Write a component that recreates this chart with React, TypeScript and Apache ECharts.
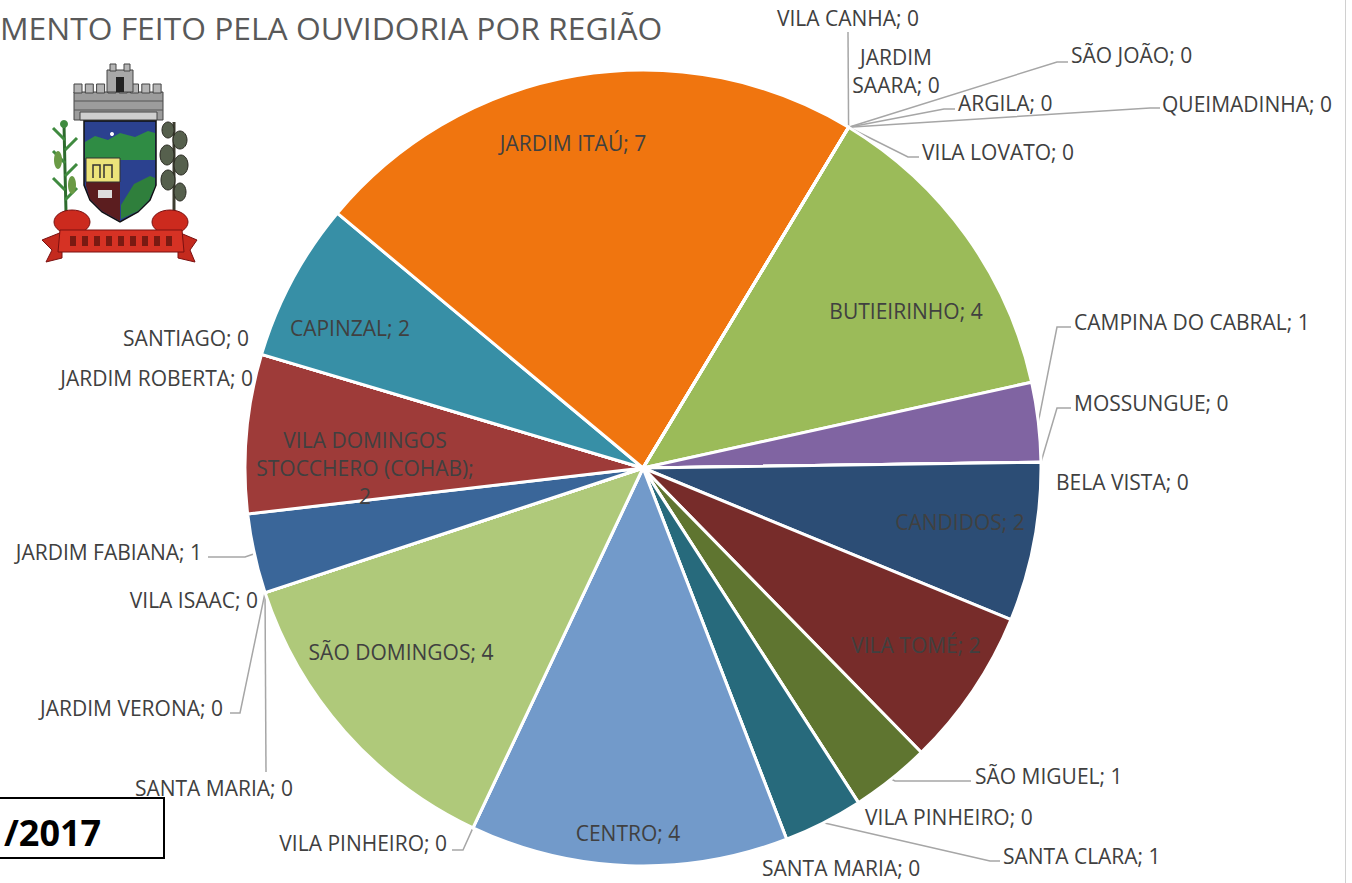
import React, { useEffect, useRef } from 'react';
import * as echarts from 'echarts';

// ---- DATA (clockwise order, starting at the top boundary) ----
const regions: string[] = [
  'QUEIMADINHA', 'VILA LOVATO', 'BUTIEIRINHO', 'CAMPINA DO CABRAL', 'MOSSUNGUE', 'BELA VISTA',
  'CANDIDOS', 'VILA TOMÉ', 'SÃO MIGUEL', 'VILA PINHEIRO', 'SANTA CLARA', 'SANTA MARIA',
  'CENTRO', 'VILA PINHEIRO', 'SÃO DOMINGOS', 'SANTA MARIA', 'JARDIM VERONA', 'VILA ISAAC',
  'JARDIM FABIANA', 'VILA DOMINGOS STOCCHERO (COHAB)', 'JARDIM ROBERTA', 'SANTIAGO',
  'CAPINZAL', 'JARDIM ITAÚ', 'VILA CANHA', 'JARDIM SAARA', 'SÃO JOÃO', 'ARGILA',
];
const counts: number[] = [
  0, 0, 4, 1, 0, 0,
  2, 2, 1, 0, 1, 0,
  4, 0, 4, 0, 0, 0,
  1, 2, 0, 0,
  2, 7, 0, 0, 0, 0,
];
const sliceColors: string[] = [
  '#4F81BD', '#C0504D', '#9BBB59', '#8064A2', '#4BACC6', '#F79646',
  '#2C4D75', '#772C2A', '#5F7530', '#4D3B62', '#276A7C', '#B65708',
  '#729ACA', '#CD7371', '#AFC97A', '#9983B5', '#6FBDD1', '#F9AB6B',
  '#3A6699', '#9E3B39', '#7E9E43', '#664F85', '#378FA6', '#F0750F',
  '#4F81BD', '#C0504D', '#9BBB59', '#8064A2',
];
const titleText = 'MENTO FEITO PELA OUVIDORIA POR REGIÃO';
const periodText = '/2017';

// ---- LABEL LAYOUT (positions of the data labels, Excel-like) ----
type LL = { x: number; y: number; align: 'left' | 'right' | 'center'; inside?: boolean; line?: number[][]; breaks?: string[] };
const labelLayouts: LL[] = [
  { x: 1162, y: 104, align: 'left', line: [[1150, 108], [1160, 108]] },
  { x: 922, y: 152, align: 'left', line: [[908, 157], [919, 157]] },
  { x: 906, y: 311, align: 'center', inside: true },
  { x: 1074, y: 322, align: 'left', line: [[1057, 327], [1071, 327]] },
  { x: 1074, y: 403, align: 'left', line: [[1057, 408], [1071, 408]] },
  { x: 1056, y: 482, align: 'left' },
  { x: 960, y: 522, align: 'center', inside: true },
  { x: 916, y: 645, align: 'center', inside: true },
  { x: 975, y: 776, align: 'left', line: [[895, 781], [971, 781]] },
  { x: 865, y: 817, align: 'left' },
  { x: 1003, y: 856, align: 'left', line: [[990, 861], [1000, 861]] },
  { x: 762, y: 868, align: 'left' },
  { x: 628, y: 833, align: 'center', inside: true },
  { x: 447, y: 843, align: 'right', line: [[463, 850], [452, 850]] },
  { x: 401, y: 652, align: 'center', inside: true },
  { x: 214, y: 788, align: 'center', line: [[266, 772], [266, 772]] },
  { x: 223, y: 708, align: 'right', line: [[240, 713], [230, 713]] },
  { x: 258, y: 600, align: 'right' },
  { x: 202, y: 552, align: 'right', line: [[245, 557], [208, 557]] },
  { x: 365, y: 468, align: 'center', inside: true, breaks: ['DOMINGOS ', '; '] },
  { x: 253, y: 378, align: 'right' },
  { x: 249, y: 338, align: 'right' },
  { x: 350, y: 328, align: 'center', inside: true },
  { x: 573, y: 143, align: 'center', inside: true },
  { x: 848, y: 18, align: 'center', line: [[848, 32], [848, 32]] },
  { x: 896, y: 71, align: 'center', breaks: ['JARDIM '] },
  { x: 1071, y: 55, align: 'left', line: [[1057, 62], [1068, 62]] },
  { x: 958, y: 103, align: 'left', line: [[944, 109], [955, 109]] },
];

const FONT = '"Open Sans", "Noto Sans", sans-serif';

function labelText(i: number): string {
  let t = `${regions[i]}; ${counts[i]}`;
  const b = labelLayouts[i].breaks;
  if (b) b.forEach((s) => { t = t.replace(s, s.trimEnd() + '\n'); });
  return t;
}

function logoElements(): any[] {
  const els: any[] = [];
  // crown
  els.push({ type: 'rect', shape: { x: 74, y: 92, width: 89, height: 28 }, style: { fill: '#9c9c9c', stroke: '#444', lineWidth: 1 } });
  for (let i = 0; i < 8; i++) {
    els.push({ type: 'rect', shape: { x: 74 + i * 11.3, y: 84, width: 8, height: 9 }, style: { fill: '#b5b5b5', stroke: '#444', lineWidth: 1 } });
  }
  els.push({ type: 'rect', shape: { x: 107, y: 70, width: 26, height: 22 }, style: { fill: '#a8a8a8', stroke: '#444', lineWidth: 1 } });
  els.push({ type: 'rect', shape: { x: 110, y: 64, width: 6, height: 7 }, style: { fill: '#b5b5b5', stroke: '#444', lineWidth: 1 } });
  els.push({ type: 'rect', shape: { x: 124, y: 64, width: 6, height: 7 }, style: { fill: '#b5b5b5', stroke: '#444', lineWidth: 1 } });
  els.push({ type: 'rect', shape: { x: 116, y: 77, width: 8, height: 15 }, style: { fill: '#222' } });
  els.push({ type: 'line', shape: { x1: 74, y1: 101, x2: 163, y2: 101 }, style: { stroke: '#555', lineWidth: 1 } });
  els.push({ type: 'line', shape: { x1: 74, y1: 110, x2: 163, y2: 110 }, style: { stroke: '#555', lineWidth: 1 } });
  els.push({ type: 'rect', shape: { x: 80, y: 112, width: 77, height: 8 }, style: { fill: '#cfcfcf', stroke: '#444', lineWidth: 1 } });
  // shield
  els.push({ type: 'polygon', shape: { points: [[84, 121], [156, 121], [156, 185], [150, 200], [138, 212], [120, 222], [102, 212], [90, 200], [84, 185]] }, style: { fill: '#2b418f', stroke: '#111', lineWidth: 1.5 } });
  els.push({ type: 'polygon', shape: { points: [[85, 142], [95, 136], [108, 140], [120, 133], [135, 137], [148, 131], [155, 133], [155, 160], [85, 160]] }, style: { fill: '#2f8c44' } });
  els.push({ type: 'circle', shape: { cx: 112, cy: 134, r: 2 }, style: { fill: '#fff' } });
  els.push({ type: 'polygon', shape: { points: [[121, 205], [134, 184], [150, 176], [155, 178], [155, 186], [149, 200], [138, 211], [121, 219]] }, style: { fill: '#2f7f3c' } });
  els.push({ type: 'polygon', shape: { points: [[86, 182], [120, 182], [120, 221], [102, 211], [90, 199], [86, 186]] }, style: { fill: '#5b1d1f' } });
  els.push({ type: 'rect', shape: { x: 86, y: 158, width: 34, height: 24 }, style: { fill: '#ece37a', stroke: '#333', lineWidth: 1 } });
  els.push({ type: 'polyline', shape: { points: [[93, 178], [93, 165], [100, 165], [100, 178]] }, style: { stroke: '#333', lineWidth: 1.5, fill: 'none' } });
  els.push({ type: 'polyline', shape: { points: [[104, 178], [104, 165], [112, 165], [112, 178]] }, style: { stroke: '#333', lineWidth: 1.5, fill: 'none' } });
  els.push({ type: 'rect', shape: { x: 98, y: 190, width: 14, height: 8 }, style: { fill: '#ddd' } });
  // left plant (corn)
  els.push({ type: 'polyline', shape: { points: [[66, 212], [65, 170], [64, 124]] }, style: { stroke: '#2e6b2e', lineWidth: 3, fill: 'none' } });
  [[140, -1], [150, 1], [163, -1], [176, 1], [190, -1], [200, 1]].forEach(([y, d]) => {
    els.push({ type: 'polyline', shape: { points: [[65, y], [65 + d * 12, y - 12]] }, style: { stroke: '#3f8a3f', lineWidth: 3, fill: 'none' } });
  });
  els.push({ type: 'ellipse', shape: { cx: 58, cy: 160, rx: 4, ry: 9 }, style: { fill: '#6a9a45' } });
  els.push({ type: 'ellipse', shape: { cx: 72, cy: 185, rx: 4, ry: 9 }, style: { fill: '#6a9a45' } });
  els.push({ type: 'circle', shape: { cx: 64, cy: 124, r: 4 }, style: { fill: '#3f8a3f' } });
  // right plant
  els.push({ type: 'polyline', shape: { points: [[174, 212], [174, 122]] }, style: { stroke: '#3d3d30', lineWidth: 3, fill: 'none' } });
  [[168, 130, 6, 8], [180, 140, 7, 9], [167, 155, 7, 10], [181, 165, 7, 10], [168, 180, 7, 10], [180, 192, 6, 9]].forEach(([cx, cy, rx, ry]) => {
    els.push({ type: 'ellipse', shape: { cx, cy, rx, ry }, style: { fill: '#56604d', stroke: '#2a2a22', lineWidth: 1 } });
  });
  // roots and ribbon
  els.push({ type: 'ellipse', shape: { cx: 72, cy: 222, rx: 18, ry: 12 }, style: { fill: '#cc2a1e', stroke: '#7a1010', lineWidth: 1 } });
  els.push({ type: 'ellipse', shape: { cx: 170, cy: 222, rx: 18, ry: 12 }, style: { fill: '#cc2a1e', stroke: '#7a1010', lineWidth: 1 } });
  els.push({ type: 'polygon', shape: { points: [[42, 240], [62, 232], [62, 258], [46, 262], [52, 250]] }, style: { fill: '#c42a1e', stroke: '#7a1010', lineWidth: 1 } });
  els.push({ type: 'polygon', shape: { points: [[178, 232], [197, 240], [190, 250], [195, 262], [178, 258]] }, style: { fill: '#c42a1e', stroke: '#7a1010', lineWidth: 1 } });
  els.push({ type: 'polygon', shape: { points: [[60, 230], [182, 230], [184, 252], [58, 252]] }, style: { fill: '#d63224', stroke: '#7a1010', lineWidth: 1 } });
  for (let i = 0; i < 9; i++) {
    els.push({ type: 'rect', shape: { x: 70 + i * 12, y: 236, width: 6, height: 10 }, style: { fill: '#7a1a12' } });
  }
  return els;
}

export default function App() {
  const ref = useRef<HTMLDivElement>(null);
  useEffect(() => {
    if (!ref.current) return;
    const chart = echarts.init(ref.current, undefined, { renderer: 'svg' });
    const data = regions.map((name, i) => {
      const L = labelLayouts[i];
      return {
        name,
        value: counts[i],
        itemStyle: { color: sliceColors[i] },
        label: { position: L.inside ? 'inside' : 'outside' },
        labelLine: { show: !!L.line },
      };
    });
    chart.setOption({
      animation: false,
      backgroundColor: '#ffffff',
      graphic: [
        { type: 'text', x: 0, y: 27, style: { text: titleText, fontFamily: FONT, fontSize: 31.8, fill: '#595959', align: 'left', verticalAlign: 'middle' } },
        { type: 'line', shape: { x1: 1345.5, y1: 0, x2: 1345.5, y2: 883 }, style: { stroke: '#d0d0d0', lineWidth: 1 } },
        { type: 'rect', shape: { x: -2, y: 798, width: 166, height: 60 }, style: { fill: '#ffffff', stroke: '#000', lineWidth: 2 } },
        { type: 'text', x: 4, y: 832, style: { text: periodText, fontFamily: FONT, fontSize: 36, fontWeight: 'bold', fill: '#000', align: 'left', verticalAlign: 'middle' } },
        ...logoElements(),
      ],
      series: [
        {
          type: 'pie',
          center: [643, 468],
          radius: 398,
          startAngle: 58.9,
          clockwise: true,
          avoidLabelOverlap: false,
          silent: true,
          itemStyle: { borderColor: '#ffffff', borderWidth: 3 },
          label: {
            show: true,
            color: '#404040',
            fontFamily: FONT,
            fontSize: 21,
            lineHeight: 28,
            formatter: (p: any) => labelText(p.dataIndex),
          },
          labelLine: { show: true, length: 15, length2: 15, lineStyle: { color: '#a6a6a6', width: 1.5 } },
          labelLayout: (params: any) => {
            const L = labelLayouts[params.dataIndex];
            const res: any = { x: L.x, y: L.y, align: L.align, verticalAlign: 'middle', hideOverlap: false };
            if (L.line && params.labelLinePoints && params.labelLinePoints[0]) {
              res.labelLinePoints = [params.labelLinePoints[0], L.line[0], L.line[1]];
            }
            return res;
          },
          emphasis: { disabled: true },
          data,
        },
      ],
    });
    return () => chart.dispose();
  }, []);
  return <div ref={ref} style={{ position: 'fixed', left: 0, top: 0, width: 1352, height: 883, background: '#fff' }} />;
}
